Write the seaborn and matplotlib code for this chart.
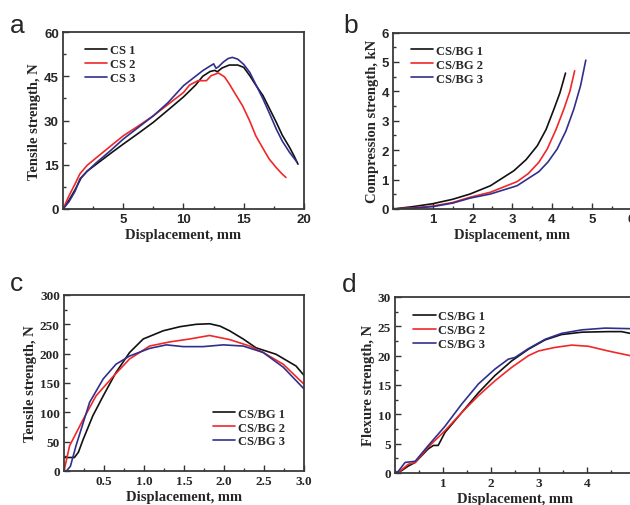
import numpy as np
import pandas as pd
import seaborn as sns
import matplotlib.pyplot as plt
from matplotlib.ticker import MultipleLocator

sns.set_style("ticks")
plt.rcParams["font.family"] = ["Liberation Serif", "DejaVu Serif"]

# colours of the three samples
c1, c2, c3 = "#111111", "#f02828", "#30308c"

# (a) CS tensile
a_x1 = [0, 0.5, 1.0, 1.5, 2.0, 2.8, 4.0, 5.0, 6.2, 7.5, 8.7, 10.0, 11.0, 11.6, 12.2, 12.6, 12.8, 13.2, 13.8, 14.5, 15.0, 15.5, 16.0, 16.6, 17.2, 17.7, 18.2, 18.8, 19.2, 19.5]
a_y1 = [0, 3.0, 6.5, 10.5, 12.8, 15.3, 19.0, 22.0, 25.5, 29.4, 33.5, 38.0, 42.0, 45.0, 46.6, 47.0, 46.5, 47.8, 48.8, 48.8, 48.0, 45.2, 42.0, 38.4, 33.5, 29.4, 25.0, 20.9, 17.8, 15.2]
a_x2 = [0, 0.5, 1.0, 1.4, 2.0, 2.8, 4.0, 5.0, 6.2, 7.5, 8.7, 10.0, 10.5, 11.2, 11.9, 12.3, 12.9, 13.4, 13.8, 14.3, 14.9, 15.5, 16.0, 16.6, 17.1, 17.7, 18.2, 18.5]
a_y2 = [0, 4.5, 8.5, 11.9, 14.8, 17.5, 21.5, 24.8, 28.0, 31.6, 35.4, 39.5, 42.0, 43.5, 43.5, 45.2, 46.1, 44.8, 42.4, 39.0, 35.0, 29.8, 24.8, 20.5, 17.0, 14.0, 11.8, 10.7]
a_x3 = [0, 0.5, 1.0, 1.4, 2.0, 2.8, 4.0, 5.0, 6.2, 7.5, 8.7, 10.0, 11.0, 11.6, 12.1, 12.5, 12.7, 12.9, 13.3, 13.7, 14.05, 14.5, 15.0, 15.5, 16.0, 16.6, 17.2, 17.7, 18.2, 18.8, 19.4]
a_y3 = [0, 2.5, 6.0, 10.2, 12.8, 15.8, 20.0, 23.7, 27.5, 31.6, 36.0, 41.8, 45.0, 46.9, 48.2, 49.2, 47.7, 48.2, 49.8, 51.0, 51.4, 50.8, 49.0, 46.3, 42.2, 37.3, 31.8, 27.1, 23.0, 19.2, 16.0]

# (b) CS/BG compression
b_x1 = [0, 0.5, 1.0, 1.5, 1.94, 2.45, 3.04, 3.35, 3.63, 3.85, 4.05, 4.2, 4.34]
b_y1 = [0, 0.08, 0.18, 0.33, 0.51, 0.79, 1.3, 1.68, 2.15, 2.7, 3.4, 3.95, 4.62]
b_x2 = [0, 0.5, 1.0, 1.5, 1.94, 2.45, 3.12, 3.4, 3.67, 3.88, 4.1, 4.3, 4.45, 4.57]
b_y2 = [0, 0.04, 0.1, 0.22, 0.4, 0.57, 0.93, 1.2, 1.59, 2.04, 2.7, 3.4, 4.0, 4.7]
b_x3 = [0, 0.5, 1.0, 1.5, 1.94, 2.45, 3.12, 3.67, 3.9, 4.13, 4.35, 4.55, 4.72, 4.85]
b_y3 = [0, 0.03, 0.08, 0.2, 0.37, 0.51, 0.79, 1.27, 1.6, 2.04, 2.65, 3.4, 4.2, 5.06]

# (c) CS/BG tensile
c_x1 = [0, 0.13, 0.18, 0.24, 0.36, 0.49, 0.65, 0.82, 0.99, 1.24, 1.45, 1.65, 1.82, 1.95, 2.07, 2.24, 2.40, 2.65, 2.90, 3.0]
c_y1 = [23, 23, 32, 54, 94, 128, 168, 202, 225, 239, 246, 250, 251, 247, 239, 225, 210, 199, 179, 163]
c_x2 = [0, 0.07, 0.24, 0.40, 0.62, 0.82, 1.07, 1.32, 1.57, 1.82, 2.07, 2.32, 2.49, 2.74, 3.0]
c_y2 = [0, 43, 88, 128, 162, 191, 213, 220, 225, 231, 224, 213, 202, 182, 148]
c_x3 = [0, 0.03, 0.08, 0.15, 0.32, 0.49, 0.65, 0.82, 1.07, 1.28, 1.49, 1.74, 1.99, 2.24, 2.49, 2.74, 3.0]
c_y3 = [0, 0, 8, 43, 117, 157, 182, 196, 209, 215, 212, 212, 215, 213, 202, 177, 140]

# (d) CS/BG flexure
d_x1 = [0, 0.1, 0.28, 0.42, 0.69, 0.8, 0.9, 1.04, 1.39, 1.74, 2.08, 2.43, 2.78, 3.13, 3.47, 3.89, 4.44, 4.72, 4.9, 5.0]
d_y1 = [0, 0.2, 1.2, 1.8, 4.1, 4.7, 4.7, 6.9, 10.3, 13.7, 16.6, 19.1, 21.1, 22.7, 23.6, 24.0, 24.1, 24.1, 23.8, 23.7]
d_x2 = [0, 0.1, 0.28, 0.42, 0.69, 1.04, 1.39, 1.74, 2.08, 2.43, 2.78, 2.99, 3.33, 3.68, 4.03, 4.44, 4.9, 5.0]
d_y2 = [0, 0.3, 1.5, 1.8, 4.4, 7.2, 10.3, 13.2, 15.7, 18.0, 20.0, 20.8, 21.4, 21.8, 21.6, 20.8, 20.0, 19.8]
d_x3 = [0, 0.07, 0.21, 0.42, 0.69, 1.04, 1.39, 1.74, 2.08, 2.36, 2.5, 2.78, 3.13, 3.47, 3.89, 4.38, 4.9, 5.0]
d_y3 = [0, 0.3, 1.8, 2.0, 4.65, 7.95, 11.75, 15.2, 17.7, 19.4, 19.7, 21.2, 22.8, 23.8, 24.4, 24.7, 24.6, 24.6]

fig = plt.figure(figsize=(6.3, 5.06), dpi=100)


def px_axes(l, t, r, b):
    return fig.add_axes([l / 630, 1 - b / 506, (r - l) / 630, (b - t) / 506])


def style(ax, xlim, ylim, xt, xtl, yt, ytl, xminor, yminor, xlabel, ylabel, tickfont):
    ax.set_xlim(*xlim)
    ax.set_ylim(*ylim)
    ax.set_xticks(xt)
    ax.set_xticklabels(xtl, fontweight="bold", fontfamily=tickfont, fontsize=9.5)
    ax.set_yticks(yt)
    ax.set_yticklabels(ytl, fontweight="bold", fontfamily=tickfont, fontsize=9.5)
    ax.xaxis.set_minor_locator(MultipleLocator(xminor))
    ax.yaxis.set_minor_locator(MultipleLocator(yminor))
    ax.tick_params(which="both", direction="in", top=False, right=False, color="#333333", width=1)
    ax.tick_params(which="major", length=4, pad=3)
    ax.tick_params(which="minor", length=2)
    for s in ax.spines.values():
        s.set_color("#3a3a3a")
        s.set_linewidth(1.3)
    ax.set_xlabel(xlabel, fontsize=10.5, fontweight="bold", labelpad=2)
    ax.set_ylabel(ylabel, fontsize=10.5, fontweight="bold", labelpad=2)


def draw(ax, series, names):
    for (x, y), name, col in zip(series, names, [c1, c2, c3]):
        sns.lineplot(x=x, y=y, ax=ax, color=col, lw=1.2, label=name, sort=False, estimator=None)


ax_a = px_axes(63, 33, 304, 210)
draw(ax_a, [(a_x1, a_y1), (a_x2, a_y2), (a_x3, a_y3)], ["CS 1", "CS 2", "CS 3"])
style(ax_a, (0, 20), (0, 60), [5, 10, 15, 20], ["5", "10", "15", "20"],
      [0, 15, 30, 45, 60], ["0", "15", "30", "45", "60"], 2.5, 7.5,
      "Displacement, mm", "Tensile strength, N", "Liberation Sans")

# b and d run past the right edge of the figure, as in the original
ax_b = px_axes(393, 33.5, 631.5, 210)
draw(ax_b, [(b_x1, b_y1), (b_x2, b_y2), (b_x3, b_y3)], ["CS/BG 1", "CS/BG 2", "CS/BG 3"])
style(ax_b, (0, 6), (0, 6), [1, 2, 3, 4, 5, 6], ["1", "2", "3", "4", "5", "6"],
      [0, 1, 2, 3, 4, 5, 6], ["0", "1", "2", "3", "4", "5", "6"], 0.5, 0.5,
      "Displacement, mm", "Compression strength, kN", "Liberation Sans")

ax_c = px_axes(64, 296, 304, 472)
draw(ax_c, [(c_x1, c_y1), (c_x2, c_y2), (c_x3, c_y3)], ["CS/BG 1", "CS/BG 2", "CS/BG 3"])
style(ax_c, (0, 3), (0, 300), [0.5, 1.0, 1.5, 2.0, 2.5, 3.0], ["0.5", "1.0", "1.5", "2.0", "2.5", "3.0"],
      [0, 50, 100, 150, 200, 250, 300], ["0", "50", "100", "150", "200", "250", "300"], 0.25, 25,
      "Displacement, mm", "Tensile strength, N", "Liberation Serif")

ax_d = px_axes(395, 298, 635, 474)
draw(ax_d, [(d_x1, d_y1), (d_x2, d_y2), (d_x3, d_y3)], ["CS/BG 1", "CS/BG 2", "CS/BG 3"])
style(ax_d, (0, 5), (0, 30), [1, 2, 3, 4, 5], ["1", "2", "3", "4", "5"],
      [0, 5, 10, 15, 20, 25, 30], ["0", "5", "10", "15", "20", "25", "30"], 0.5, 2.5,
      "Displacement, mm", "Flexure strength, N", "Liberation Serif")

leg_kw = dict(frameon=False, prop={"weight": "bold", "size": 9}, handlelength=1.8,
              handletextpad=0.2, labelspacing=0.15, borderpad=0, borderaxespad=0)
ax_a.legend(loc="upper left", bbox_to_anchor=(0.09, 0.93), **leg_kw)
ax_b.legend(loc="upper left", bbox_to_anchor=(0.075, 0.93), **leg_kw)
ax_c.legend(loc="upper left", bbox_to_anchor=(0.62, 0.36), **leg_kw)
ax_d.legend(loc="upper left", bbox_to_anchor=(0.075, 0.925), **leg_kw)

for letter, x, y in [("a", 10, 33), ("b", 343, 33), ("c", 10, 291), ("d", 342, 292)]:
    fig.text(x / 630, 1 - y / 506, letter, fontsize=19, family="Liberation Sans", va="baseline")

fig.savefig("out.png", dpi=100, facecolor="white")
